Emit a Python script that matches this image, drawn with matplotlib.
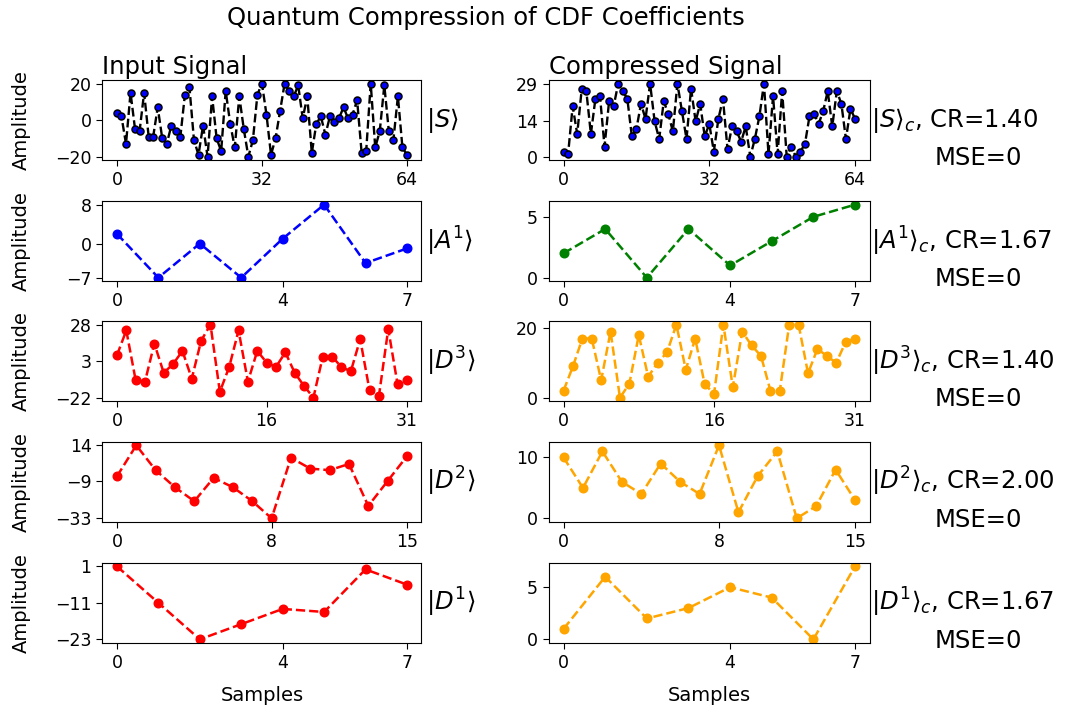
import matplotlib.pyplot as plt
import numpy as np

# values
S = [4, 2, -13, 15, -5, -6, 15, -9, -9, 7, -10, -13, -3, -6, -9, 14, 18, -11, -19, -3,
     -20, 13, -10, -17, 16, -2, -15, 13, -5, -20, -11, 14, 20, 3, -19, -10, 5, 20, 16, 13,
     19, 1, 13, -18, -2, 2, -8, 2, -1, 1, 7, 1, 3, 11, -18, -17, 20, -15, -6, 19,
     -6, -11, 13, -15, -19]
S_c = [2, 1, 20, 9, 27, 26, 9, 23, 24, 4, 22, 20, 29, 26, 23, 8, 11, 21, 15, 29,
       14, 7, 22, 17, 10, 29, 18, 7, 27, 14, 21, 8, 13, 2, 15, 23, 3, 12, 10, 6,
       12, 0, 7, 16, 29, 1, 24, 1, 26, 0, 4, 0, 2, 5, 16, 17, 13, 18, 26, 12,
       26, 21, 7, 19, 15]
A1 = [2, -7, 0, -7, 1, 8, -4, -1]
A1_c = [2, 4, 0, 4, 1, 3, 5, 6]
D3 = [7, 24, -10, -11, 15, -5, 1, 10, -9, 17, 28, -18, -1, 24, -11, 10,
      2, -1, 9, -5, -14, -22, 6, 6, -1, -4, 18, -17, -21, 25, -13, -10]
D3_c = [2, 9, 17, 17, 5, 19, 0, 4, 18, 6, 10, 13, 21, 8, 17, 4,
        1, 21, 3, 19, 15, 12, 2, 2, 21, 21, 7, 14, 12, 10, 16, 17]
D2 = [-6, 14, -2, -13, -22, -7, -13, -22, -33, 6, -1, -2, 2, -25, -9, 7]
D2_c = [10, 5, 11, 6, 4, 9, 6, 4, 12, 1, 7, 11, 0, 2, 8, 3]
D1 = [1, -11, -23, -18, -13, -14, 0, -5]
D1_c = [1, 6, 2, 3, 5, 4, 0, 7]

names = ["S", "A^1", "D^3", "D^2", "D^1"]
ratios = ["1.40", "1.67", "1.40", "2.00", "1.67"]
inputs = [S, A1, D3, D2, D1]
outputs = [S_c, A1_c, D3_c, D2_c, D1_c]
left_cols = ["b", "b", "r", "r", "r"]
right_cols = ["b", "g", "orange", "orange", "orange"]

W, H = 1067, 712
fig = plt.figure(figsize=(W / 100, H / 100), dpi=100)
bottoms = [0.7749, 0.6049, 0.4364, 0.2669, 0.0969]
h = 0.1128

def mid_ticks(v):
    lo, hi = min(v), max(v)
    return [lo, int((lo + hi) / 2), hi]

for r in range(5):
    axl = fig.add_axes([0.096, bottoms[r], 0.299, h])
    axr = fig.add_axes([0.5145, bottoms[r], 0.3005, h])
    for ax, vals, col in [(axl, inputs[r], left_cols[r]), (axr, outputs[r], right_cols[r])]:
        x = np.arange(len(vals))
        if r == 0:
            ax.plot(x, vals, "k--", marker="o", mfc=col, mec="k", ms=5, mew=1.1, lw=1.7)
        else:
            ax.plot(x, vals, "--", color=col, marker="o", ms=6.2, lw=1.8)
        n = len(vals)
        ax.set_xticks([0, n // 2, n - 1])
        ax.tick_params(labelsize=12.5, length=4.3)
    axl.set_yticks(mid_ticks(inputs[r]))
    if r == 0:
        axr.set_yticks(mid_ticks(outputs[r]))
    axl.set_ylabel("Amplitude", fontsize=14)
    axl.yaxis.set_label_coords(-0.225, 0.5)
    axl.text(1.015, 0.5, r"$|%s\rangle$" % names[r], transform=axl.transAxes,
             fontsize=17.5, va="center", ha="left")
    axr.text(1.005, 0.5, r"$|%s\rangle_c$, CR=%s" % (names[r], ratios[r]),
             transform=axr.transAxes, fontsize=17.5, va="center", ha="left")
    axr.text(1.34, 0.03, "MSE=0", transform=axr.transAxes,
             fontsize=17.5, va="center", ha="center")
    if r == 0:
        axl.set_title("Input Signal", loc="left", fontsize=17.5, pad=4)
        axr.set_title("Compressed Signal", loc="left", fontsize=17.5, pad=4)
    if r == 4:
        axl.set_xlabel("Samples", fontsize=14, labelpad=10)
        axr.set_xlabel("Samples", fontsize=14, labelpad=10)

fig.text(486 / W, 1 - 18 / H, "Quantum Compression of CDF Coefficients",
         fontsize=17.5, ha="center", va="center")

fig.savefig("out.png", dpi=100)
